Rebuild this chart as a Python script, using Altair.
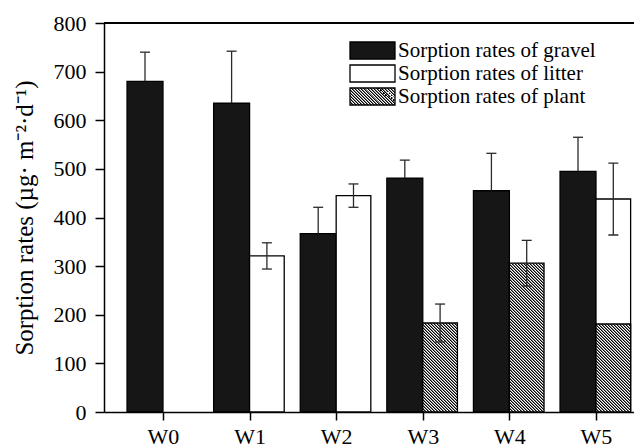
import math
import json
import altair as alt
import pandas as pd

# ---------------- data ----------------
categories = ["W0", "W1", "W2", "W3", "W4", "W5"]
gravel_mean = [680, 635, 367, 481, 455, 495]
gravel_sd = [60, 107, 54, 37, 77, 70]
litter_mean = [None, 321, 445, None, None, 438]
litter_sd = [None, 27, 24, None, None, 74]
plant_mean = [None, None, None, 183, 306, 181]
plant_sd = [None, None, None, 39, 47, None]
series_names = ["Sorption rates of gravel", "Sorption rates of litter", "Sorption rates of plant"]
y_ticks = [0, 100, 200, 300, 400, 500, 600, 700, 800]
y_title = "Sorption rates (\u00b5g\u00b7 m\u207b\u00b2\u00b7d\u207b\u00b9)"

# ---------------- layout / style ----------------
PLOT_W, PLOT_H = 530, 389
X_DOMAIN = [-0.681, 5.439]
Y_MAX = 800
BAR_G = 0.415
BAR_O = 0.40
FONT = "Liberation Serif"
FS_TICK = 22
FS_LEG = 21
FS_TITLE = 25
BLACK = "#161616"
ERR = "#2a2a2a"

px_x = PLOT_W / (X_DOMAIN[1] - X_DOMAIN[0])
px_y = PLOT_H / Y_MAX


def hatch_dict(w, h, period=3.0):
    """Diagonal '\\' stripes as a hard-stop linear gradient (bbox units):
    each 3 px period = black / mid-grey / white band."""
    n = int(math.ceil((w + h) / period))
    L = n * period
    t = L / (w * w + h * h)
    bands = ["black", "#7f7f7f", "white"]
    stops = []
    for k in range(n):
        for j, col in enumerate(bands):
            a = (k + j / 3) / n
            b = (k + (j + 1) / 3) / n
            stops += [{"offset": round(a, 6), "color": col}, {"offset": round(b, 6), "color": col}]
    return {"gradient": "linear", "x1": 0, "y1": 1, "x2": round(t * w, 6), "y2": round(1 - t * h, 6), "stops": stops}


def hatch(w, h):
    return alt.LinearGradient(**hatch_dict(w, h))


bars, errs, caps, plant_rows = [], [], [], []
for i, g in enumerate(categories):
    m, s = gravel_mean[i], gravel_sd[i]
    bars.append(dict(group=g, series=series_names[0], value=m, x0=i - BAR_G, x1=i))
    xc = i - BAR_G / 2
    errs.append(dict(xc=xc, lo=m, hi=m + s))
    caps.append(dict(xc=xc, y=m + s))
    if litter_mean[i] is not None:
        m, s = litter_mean[i], litter_sd[i]
        bars.append(dict(group=g, series=series_names[1], value=m, x0=i, x1=i + BAR_O))
        xc = i + BAR_O / 2
        if s is not None:
            errs.append(dict(xc=xc, lo=m - s, hi=m + s))
            caps += [dict(xc=xc, y=m - s), dict(xc=xc, y=m + s)]
    if plant_mean[i] is not None:
        plant_rows.append(dict(group=g, series=series_names[2], value=plant_mean[i], x0=i, x1=i + BAR_O))

plant_errs, plant_caps = [], []
for i, g in enumerate(categories):
    if plant_mean[i] is not None and plant_sd[i] is not None:
        m, s = plant_mean[i], plant_sd[i]
        xc = i + BAR_O / 2
        plant_errs.append(dict(xc=xc, lo=m - s, hi=m + s))
        plant_caps += [dict(xc=xc, y=m - s), dict(xc=xc, y=m + s)]

x_scale = alt.Scale(domain=X_DOMAIN, nice=False, zero=False)
y_scale = alt.Scale(domain=[0, Y_MAX], nice=False)

x_axis = alt.Axis(
    values=list(range(len(categories))),
    labelExpr="['" + "','".join(categories) + "'][datum.value]",
    title=None, grid=False, domainColor="black", domainWidth=1.5,
    tickColor="black", tickSize=8, tickWidth=1.5,
    labelFont=FONT, labelFontSize=FS_TICK, labelColor="black", labelPadding=6,
)
y_axis = alt.Axis(
    values=y_ticks, title=y_title, grid=False, domainColor="black", domainWidth=1.5,
    tickColor="black", tickSize=9, tickWidth=1.5,
    labelFont=FONT, labelFontSize=FS_TICK, labelColor="black", labelPadding=9,
    titleFont=FONT, titleFontSize=FS_TITLE, titleColor="black", titleFontWeight="normal",
    titlePadding=16,
)

# legend symbol: 45 x 17 px rectangle drawn by a path that extends past the unit box,
# so the legend rows stay compact
sym_w, sym_h = 45, 17
sym_unit = 18.0
hx, hy = sym_w / sym_unit, sym_h / sym_unit
sym_path = f"M{-hx:.4f},{-hy:.4f}L{hx:.4f},{-hy:.4f}L{hx:.4f},{hy:.4f}L{-hx:.4f},{hy:.4f}Z"
legend_grad_expr = json.dumps(hatch_dict(sym_w, sym_h))
legend = alt.Legend(
    title=None, orient="none", legendX=258, legendY=17,
    symbolType=sym_path, symbolSize=sym_unit * sym_unit,
    symbolStrokeColor="black", symbolStrokeWidth=1.3, symbolOpacity=1,
    labelFont=FONT, labelFontSize=FS_LEG, labelColor="black", labelOffset=15,
    labelLimit=500, rowPadding=0,
)

bar_layer = alt.Chart(pd.DataFrame(bars)).mark_bar(stroke="black", strokeWidth=1.3, opacity=1).encode(
    x=alt.X("x0:Q", scale=x_scale, axis=x_axis),
    x2="x1:Q",
    y=alt.Y("value:Q", scale=y_scale, axis=y_axis),
    y2=alt.datum(0),
    fill=alt.Fill("series:N",
                  scale=alt.Scale(domain=series_names,
                                  range=[BLACK, "white", alt.ExprRef(expr=legend_grad_expr)]),
                  legend=legend),
)

layers = [bar_layer]
layers.append(alt.Chart(pd.DataFrame(errs)).mark_rule(color=ERR, strokeWidth=1.3).encode(
    x="xc:Q", y="lo:Q", y2="hi:Q"))
layers.append(alt.Chart(pd.DataFrame(caps)).mark_tick(orient="horizontal", size=10, thickness=1.3, color=ERR, opacity=1).encode(
    x="xc:Q", y="y:Q"))

for r in plant_rows:
    w = (r["x1"] - r["x0"]) * px_x
    h = r["value"] * px_y
    layers.append(
        alt.Chart(pd.DataFrame([r])).mark_bar(fill=hatch(w, h), stroke="black", strokeWidth=1.3, opacity=1).encode(
            x="x0:Q", x2="x1:Q", y="value:Q", y2=alt.datum(0))
    )

layers.append(alt.Chart(pd.DataFrame(plant_errs)).mark_rule(color=ERR, strokeWidth=1.3).encode(
    x="xc:Q", y="lo:Q", y2="hi:Q"))
layers.append(alt.Chart(pd.DataFrame(plant_caps)).mark_tick(orient="horizontal", size=10, thickness=1.3, color=ERR, opacity=1).encode(
    x="xc:Q", y="y:Q"))

layers.append(alt.Chart(pd.DataFrame({"y": [Y_MAX]})).mark_rule(color="black", strokeWidth=2).encode(
    y="y:Q", x=alt.value(0), x2=alt.value("width")))

chart = alt.layer(*layers).properties(
    width=PLOT_W, height=PLOT_H,
    autosize=alt.AutoSizeParams(type="none"),
    padding={"left": 104, "top": 23, "right": 0, "bottom": 36},
).configure_view(stroke=None).configure(background="white")

chart.save("out.html", embed_options={"renderer": "svg", "actions": False})
